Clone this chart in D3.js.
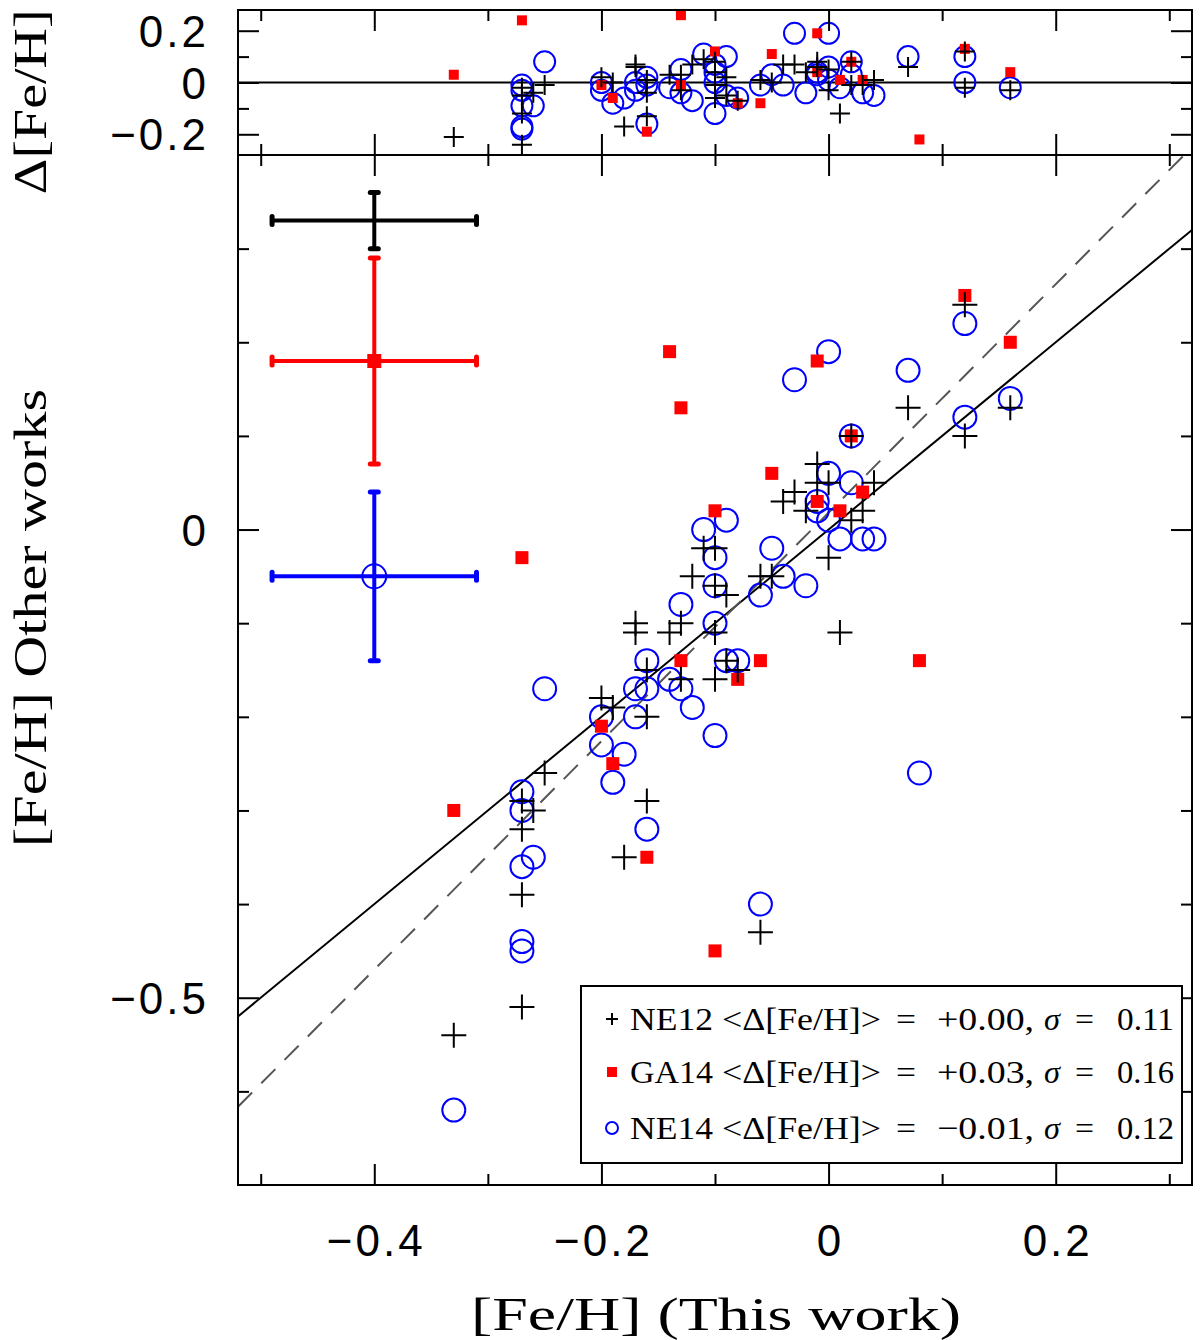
<!DOCTYPE html>
<html><head><meta charset="utf-8">
<script src="https://cdn.jsdelivr.net/npm/d3@7"></script>
<style>body{margin:0;background:#fff}svg{display:block}</style>
</head><body><div id="chart"></div>
<script>
// ---------- DATA ----------
// NE12 (plus)
const ne12X = [-0.33,-0.27,-0.27,-0.27,-0.27,-0.26,-0.25,-0.20,-0.19,-0.18,-0.17,-0.17,-0.16,-0.16,-0.16,-0.14,-0.13,-0.13,-0.12,-0.11,-0.10,-0.10,-0.10,-0.10,-0.09,-0.09,-0.08,-0.06,-0.06,-0.05,-0.04,-0.03,-0.01,-0.01,-0.02,0.00,0.00,0.01,0.02,0.02,0.03,0.04,0.07,0.12,0.12,0.16];
const ne12Y = [-0.54,-0.51,-0.39,-0.32,-0.29,-0.30,-0.26,-0.18,-0.19,-0.35,-0.10,-0.11,-0.15,-0.20,-0.29,-0.11,-0.10,-0.16,-0.05,-0.02,-0.02,-0.06,-0.11,-0.16,-0.07,-0.14,-0.15,-0.05,-0.43,-0.05,0.03,0.04,0.07,0.05,0.02,0.05,-0.03,-0.11,0.10,0.01,0.02,0.05,0.13,0.24,0.10,0.13];
// GA14 (red squares)
const ga14X = [-0.33,-0.27,-0.20,-0.19,-0.16,-0.14,-0.13,-0.13,-0.10,-0.10,-0.08,-0.06,-0.05,-0.01,-0.01,0.01,0.02,0.03,0.08,0.12,0.16];
const ga14Y = [-0.30,-0.03,-0.21,-0.25,-0.35,0.19,0.13,-0.14,0.02,-0.45,-0.16,-0.14,0.06,0.18,0.03,0.02,0.10,0.04,-0.14,0.25,0.20];
// NE14 (blue circles)
const ne14X = [-0.33,-0.27,-0.27,-0.27,-0.26,-0.27,-0.27,-0.25,-0.20,-0.20,-0.19,-0.18,-0.17,-0.16,-0.17,-0.16,-0.16,-0.14,-0.13,-0.13,-0.12,-0.11,-0.10,-0.10,-0.10,-0.10,-0.09,-0.09,-0.08,-0.06,-0.06,-0.05,-0.04,-0.03,-0.02,-0.01,-0.01,0.00,0.00,0.00,0.01,0.02,0.02,0.03,0.04,0.07,0.08,0.12,0.12,0.16];
const ne14Y = [-0.62,-0.45,-0.44,-0.36,-0.35,-0.30,-0.28,-0.17,-0.20,-0.23,-0.27,-0.24,-0.17,-0.17,-0.20,-0.14,-0.32,-0.16,-0.17,-0.08,-0.19,0.00,-0.22,-0.03,-0.06,-0.10,0.01,-0.14,-0.14,-0.07,-0.40,-0.02,-0.05,0.16,-0.06,0.03,0.02,0.19,0.06,0.01,-0.01,0.10,0.05,-0.01,-0.01,0.17,-0.26,0.22,0.12,0.14];
// typical error bars (x = -0.4)
const errCenterX = -0.4;
const errHalfX = 0.09;
const errCenterY = [0.33, 0.18, -0.05];
const errHalfY = [0.03, 0.11, 0.09];
// fit line (dashed) and identity (solid)
const fitSlope = 1.22, fitIntercept = 0.018;
// legend
const legendNames = ["NE12", "GA14", "NE14"];
const legendMeans = ["+0.00,", "+0.03,", "\u22120.01,"];
const legendSigmas = ["0.11", "0.16", "0.12"];
// ticks
const xMajorTicks = [-0.4, -0.2, 0, 0.2];
const xMinorTicks = [-0.5, -0.3, -0.1, 0.1, 0.3];
const xTickLabels = ["\u22120.4", "\u22120.2", "0", "0.2"];
const yMainMajor = [0, -0.5];
const yMainMinor = [-0.6, -0.4, -0.3, -0.2, -0.1, 0.1, 0.2, 0.3];
const yMainLabels = ["0", "\u22120.5"];
const yTopMajor = [-0.2, 0, 0.2];
const yTopMinor = [-0.1, 0.1];
const yTopLabels = ["\u22120.2", "0", "0.2"];

// ---------- LAYOUT ----------
const W = 1200, H = 1340;
const L = 238, R = 1192, mainTop = 155, mainBot = 1185, topTop = 10;
const svg = d3.select("#chart").append("svg").attr("width", W).attr("height", H);

const x = d3.scaleLinear().domain([-0.52, 0.32]).range([L, R]);
const y = d3.scaleLinear().domain([-0.7, 0.4]).range([mainBot, mainTop]);
const yT = d3.scaleLinear().domain([-0.28, 0.28]).range([mainTop, topTop]);

const defs = svg.append("defs");
defs.append("clipPath").attr("id","clipMain").append("rect").attr("x",L).attr("y",mainTop).attr("width",R-L).attr("height",mainBot-mainTop);

const MAJ = 21, MIN = 11;
function axes(g, ys, yMaj, yMin, top, bot) {
  const xa = (fn, ticks, len) => d3[fn](x).tickValues(ticks).tickSize(len).tickSizeOuter(0).tickFormat("");
  g.append("g").attr("transform",`translate(0,${bot})`).call(xa("axisBottom", xMajorTicks, -MAJ));
  g.append("g").attr("transform",`translate(0,${bot})`).call(xa("axisBottom", xMinorTicks, -MIN));
  g.append("g").attr("transform",`translate(0,${top})`).call(xa("axisTop", xMajorTicks, -MAJ));
  g.append("g").attr("transform",`translate(0,${top})`).call(xa("axisTop", xMinorTicks, -MIN));
  const ya = (fn, ticks, len) => d3[fn](ys).tickValues(ticks).tickSize(len).tickSizeOuter(0).tickFormat("");
  g.append("g").attr("transform",`translate(${L},0)`).call(ya("axisLeft", yMaj, -MAJ));
  g.append("g").attr("transform",`translate(${L},0)`).call(ya("axisLeft", yMin, -MIN));
  g.append("g").attr("transform",`translate(${R},0)`).call(ya("axisRight", yMaj, -MAJ));
  g.append("g").attr("transform",`translate(${R},0)`).call(ya("axisRight", yMin, -MIN));
  g.selectAll(".domain").remove();
  g.selectAll(".tick line").attr("stroke","#000").attr("stroke-width",2);
}

const plusPath = h => `M${-h},0H${h}M0,${-h}V${h}`;

function drawMarkers(g, xs, ys, yScale, kind, size) {
  const [lo, hi] = yScale.domain();
  const pts = xs.map((v,i)=>({x:v, y:ys[i]})).filter(d => d.y >= lo && d.y <= hi);
  if (kind === "circle") {
    g.selectAll(null).data(pts).join("circle")
      .attr("cx",d=>x(d.x)).attr("cy",d=>yScale(d.y)).attr("r",size)
      .attr("fill","none").attr("stroke","#0000ff").attr("stroke-width",2);
  } else if (kind === "square") {
    g.selectAll(null).data(pts).join("rect")
      .attr("x",d=>x(d.x)-size/2).attr("y",d=>yScale(d.y)-size/2)
      .attr("width",size).attr("height",size).attr("fill","#ff0000");
  } else {
    g.selectAll(null).data(pts).join("path")
      .attr("transform",d=>`translate(${x(d.x)},${yScale(d.y)})`)
      .attr("d",plusPath(size)).attr("stroke","#000").attr("stroke-width",2).attr("fill","none");
  }
}

// ---------- TOP PANEL ----------
const gTop = svg.append("g");
const gTopData = gTop.append("g");
gTopData.append("line").attr("x1",L).attr("x2",R).attr("y1",yT(0)).attr("y2",yT(0)).attr("stroke","#000").attr("stroke-width",2);
const delta = (xs, ys) => ys.map((v,i)=>v - xs[i]);
drawMarkers(gTopData, ne14X, delta(ne14X, ne14Y), yT, "circle", 10.5);
drawMarkers(gTopData, ga14X, delta(ga14X, ga14Y), yT, "square", 10);
drawMarkers(gTopData, ne12X, delta(ne12X, ne12Y), yT, "plus", 10);
axes(gTop, yT, yTopMajor, yTopMinor, topTop, mainTop);
gTop.append("rect").attr("x",L).attr("y",topTop).attr("width",R-L).attr("height",mainTop-topTop)
  .attr("fill","none").attr("stroke","#000").attr("stroke-width",2);

// ---------- MAIN PANEL ----------
const gMain = svg.append("g");
const gData = gMain.append("g").attr("clip-path","url(#clipMain)");
const xd = x.domain();
gData.append("line").attr("x1",x(xd[0])).attr("y1",y(xd[0])).attr("x2",x(xd[1])).attr("y2",y(xd[1]))
  .attr("stroke","#000").attr("stroke-width",2);
gData.append("line").attr("x1",x(xd[0])).attr("y1",y(fitSlope*xd[0]+fitIntercept))
  .attr("x2",x(xd[1])).attr("y2",y(fitSlope*xd[1]+fitIntercept))
  .attr("stroke","#555").attr("stroke-width",2).attr("stroke-dasharray","20,13");

drawMarkers(gData, ne14X, ne14Y, y, "circle", 11.5);
drawMarkers(gData, ga14X, ga14Y, y, "square", 13);
drawMarkers(gData, ne12X, ne12Y, y, "plus", 12.5);

// error bars
const errColors = ["#000000", "#ff0000", "#0000ff"];
errCenterY.forEach((cy,i)=>{
  const g = gData.append("g").attr("stroke",errColors[i]).attr("stroke-width",4);
  const cx = x(errCenterX), yc = y(cy);
  const x0 = x(errCenterX-errHalfX), x1 = x(errCenterX+errHalfX);
  const y0 = y(cy-errHalfY[i]), y1 = y(cy+errHalfY[i]);
  g.append("line").attr("x1",x0).attr("x2",x1).attr("y1",yc).attr("y2",yc);
  g.append("line").attr("x1",cx).attr("x2",cx).attr("y1",y0).attr("y2",y1);
  const cap = 4;
  [[x0,yc,0],[x1,yc,0],[cx,y0,1],[cx,y1,1]].forEach(([px,py,v])=>{
    g.append("line").attr("stroke-width",5).attr("stroke-linecap","round")
      .attr("x1",v?px-cap:px).attr("x2",v?px+cap:px).attr("y1",v?py:py-cap).attr("y2",v?py:py+cap);
  });
  if (i===1) gData.append("rect").attr("x",cx-7).attr("y",yc-7).attr("width",14).attr("height",14).attr("fill","#ff0000");
  if (i===2) gData.append("circle").attr("cx",cx).attr("cy",yc).attr("r",12).attr("fill","none").attr("stroke","#0000ff").attr("stroke-width",2);
});

axes(gMain, y, yMainMajor, yMainMinor, mainTop, mainBot);
gMain.append("rect").attr("x",L).attr("y",mainTop).attr("width",R-L).attr("height",mainBot-mainTop)
  .attr("fill","none").attr("stroke","#000").attr("stroke-width",2);

// ---------- LEGEND ----------
const serif = "'Liberation Serif', 'Times New Roman', serif";
const lg = svg.append("g");
lg.append("rect").attr("x",581).attr("y",986).attr("width",601).attr("height",177)
  .attr("fill","#fff").attr("stroke","#000").attr("stroke-width",2);
const rowY = [1019, 1072, 1128];
function seg(txt, x0, len, base, italic) {
  lg.append("text").attr("x",x0).attr("y",base)
    .attr("font-family",serif).attr("font-size",32)
    .attr("font-style", italic ? "italic" : "normal")
    .attr("textLength",len).attr("lengthAdjust","spacingAndGlyphs").text(txt);
}
legendNames.forEach((nm,i)=>{
  const cy = rowY[i];
  if (i===0) lg.append("path").attr("transform",`translate(612,${cy})`).attr("d",plusPath(6)).attr("stroke","#000").attr("stroke-width",2);
  if (i===1) lg.append("rect").attr("x",607).attr("y",cy-5).attr("width",10).attr("height",10).attr("fill","#ff0000");
  if (i===2) lg.append("circle").attr("cx",612).attr("cy",cy).attr("r",6).attr("fill","none").attr("stroke","#0000ff").attr("stroke-width",2);
  const b = cy + 11;
  seg(nm, 630, 83, b);
  seg("<\u0394[Fe/H]>", 722, 159, b);
  seg("=", 896, 20, b);
  seg(legendMeans[i], 937, 97, b);
  seg("\u03c3", 1044, 16, b, true);
  seg("=", 1075, 19, b);
  seg(legendSigmas[i], 1117, 57, b);
});

// ---------- TICK LABELS ----------
const tickFont = "'Liberation Sans', Arial, sans-serif";
function tickText(data, fx, fy, anchor, labels) {
  svg.append("g").selectAll("text").data(data).join("text")
    .attr("x",fx).attr("y",fy).attr("text-anchor",anchor)
    .attr("font-family",tickFont).attr("font-size",44).attr("letter-spacing",3)
    .text((d,i)=>labels[i]);
}
tickText(xMajorTicks, d=>x(d)+2, 1256, "middle", xTickLabels);
tickText(yMainMajor, 209, d=>y(d)+16, "end", yMainLabels);
tickText(yTopMajor, 209, d=>yT(d)+16, "end", yTopLabels);

// ---------- AXIS TITLES ----------
svg.append("text").attr("x",716).attr("y",1330).attr("text-anchor","middle")
  .attr("font-family",serif).attr("font-size",46)
  .attr("textLength",490).attr("lengthAdjust","spacingAndGlyphs")
  .text("[Fe/H] (This work)");
svg.append("text").attr("transform","translate(46,618) rotate(-90)").attr("text-anchor","middle")
  .attr("font-family",serif).attr("font-size",46)
  .attr("textLength",458).attr("lengthAdjust","spacingAndGlyphs")
  .text("[Fe/H] Other works");
svg.append("text").attr("transform","translate(46,102) rotate(-90)").attr("text-anchor","middle")
  .attr("font-family",serif).attr("font-size",46)
  .attr("textLength",185).attr("lengthAdjust","spacingAndGlyphs")
  .text("\u0394[Fe/H]");
</script></body></html>
